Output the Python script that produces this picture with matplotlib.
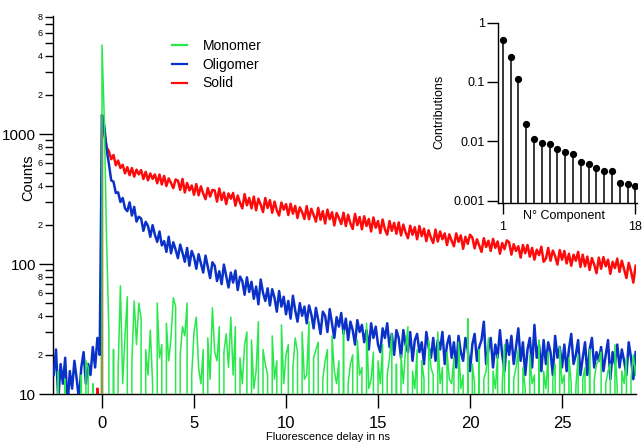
import numpy as np
import matplotlib
matplotlib.use('Agg')
import matplotlib.pyplot as plt
from matplotlib.ticker import LogLocator, FixedLocator, FuncFormatter, NullLocator
from matplotlib.lines import Line2D

plt.rcParams['font.family'] = ['Liberation Sans', 'DejaVu Sans']

# ---------------- data ----------------
# time channels (ns): first channel and channel width
t_start = -2.625
t_step = 0.125

monomer = [
    0, 0, 15, 0, 0, 13, 0, 0, 0, 0, 0, 0, 14, 0, 18, 16, 0, 12, 0, 0, 0,
    4840,
    1300, 150, 30, 0, 22, 0, 15, 68,
    12, 28, 56, 0, 18, 52, 24, 50,
    38, 0, 22, 14, 31, 12, 0, 50,
    19, 24, 0, 35, 18, 27, 55, 47,
    0, 20, 33, 28, 50, 0, 14, 30,
    39, 16, 12, 22, 0, 27, 13, 46,
    21, 18, 33, 0, 21, 29, 16, 39,
    14, 33, 0, 19, 12, 24, 30, 0,
    26, 11, 15, 36, 0, 22, 17, 14,
    0, 28, 13, 18, 0, 34, 12, 20,
    24, 0, 16, 27, 21, 0, 30, 13,
    14, 36, 0, 19, 22, 25, 0, 13,
    18, 22, 0, 28, 15, 12, 18, 0,
    31, 0, 12, 17, 20, 0, 26, 14,
    16, 0, 35, 11, 13, 21, 0, 18,
    12, 24, 0, 14, 19, 29, 0, 17,
    0, 20, 12, 23, 33, 0, 15, 11,
    22, 0, 18, 13, 0, 26, 16, 14,
    0, 30, 12, 16, 0, 21, 13, 12,
    19, 0, 25, 11, 14, 0, 38, 0,
    17, 12, 0, 22, 0, 13, 15, 27,
    0, 15, 11, 20, 0, 12, 24, 0,
    18, 0, 13, 16, 22, 0, 16, 11,
    0, 20, 12, 14, 0, 26, 0, 15,
    11, 21, 0, 13, 17, 0, 23, 12,
    14, 0, 19, 12, 0, 11, 20, 0,
    13, 16, 0, 22, 0, 13, 17, 18,
    21, 0, 12, 15, 17, 0, 24, 11,
    0, 15, 12, 19, 0, 13, 20, 14,
]

oligomer = [
    14, 22, 9, 17, 12, 19, 8, 15, 11, 18, 13, 9, 16, 21, 12, 17, 14, 23, 16, 27, 20,
    1400,
    1150, 760, 590, 440, 430, 352, 356, 300,
    322, 268, 255, 298, 236, 275, 212, 231,
    224, 180, 211, 196, 162, 199, 168, 148,
    178, 139, 150, 124, 162, 121, 147, 129,
    111, 141, 122, 104, 133, 97, 126, 113,
    92, 119, 101, 86, 116, 95, 78, 103,
    97, 74, 88, 70, 99, 81, 66, 86,
    72, 89, 63, 80, 74, 58, 79, 61,
    73, 54, 67, 49, 76, 60, 52, 65,
    48, 64, 55, 43, 62, 47, 56, 41,
    52, 38, 57, 44, 36, 50, 40, 47,
    35, 48, 41, 32, 46, 37, 29, 43,
    40, 30, 45, 35, 27, 39, 33, 42,
    29, 38, 26, 36, 31, 24, 37, 30,
    34, 25, 31, 22, 35, 27, 33, 24,
    21, 32, 27, 35, 23, 29, 20, 31,
    27, 19, 31, 24, 21, 30, 18, 26,
    29, 21, 25, 17, 30, 23, 19, 27,
    18, 26, 22, 30, 17, 24, 28, 19,
    25, 16, 28, 21, 18, 27, 22, 15,
    24, 29, 18, 23, 26, 36, 17, 22,
    27, 16, 24, 19, 31, 20, 15, 26,
    20, 28, 17, 23, 32, 18, 25, 14,
    22, 27, 16, 34, 19, 24, 15, 26,
    17, 25, 21, 14, 28, 19, 23, 16,
    24, 15, 22, 29, 17, 20, 26, 14,
    19, 25, 14, 22, 27, 16, 21, 18,
    23, 15, 20, 26, 13, 21, 17, 24,
    16, 22, 18, 14, 25, 19, 13, 21,
]

solid = [
    0, 0, 0, 0, 0, 0, 0, 0, 0, 0, 0, 0, 0, 0, 0, 0, 0, 0, 0, 11, 0,
    1400,
    1020, 790, 735, 640, 690, 575, 625, 548,
    580, 498, 556, 482, 548, 470, 532, 489,
    528, 451, 512, 440, 497, 452, 489, 418,
    488, 409, 476, 398, 455, 420, 383, 447,
    438, 372, 451, 355, 420, 368, 402, 341,
    412, 338, 396, 349, 315, 384, 330, 372,
    368, 302, 381, 311, 355, 289, 349, 318,
    352, 281, 336, 296, 268, 345, 283, 322,
    268, 330, 259, 318, 286, 251, 322, 270,
    310, 248, 302, 259, 236, 297, 262, 289,
    238, 291, 244, 280, 226, 273, 251, 222,
    279, 221, 266, 239, 212, 270, 219, 255,
    205, 262, 221, 250, 198, 247, 226, 203,
    248, 196, 239, 205, 186, 243, 199, 230,
    185, 233, 196, 222, 178, 228, 190, 214,
    173, 220, 185, 168, 214, 180, 207, 171,
    209, 166, 201, 175, 158, 197, 168, 192,
    155, 196, 164, 187, 150, 182, 159, 145,
    184, 149, 178, 155, 172, 140, 169, 151,
    137, 172, 148, 166, 131, 162, 143, 168,
    160, 132, 155, 139, 124, 158, 135, 151,
    126, 156, 133, 149, 120, 145, 130, 152,
    147, 118, 142, 126, 137, 112, 140, 121,
    140, 114, 133, 108, 129, 117, 136, 104,
    110, 133, 106, 127, 115, 99, 128, 108,
    126, 101, 120, 97, 118, 106, 124, 95,
    118, 96, 114, 90, 111, 99, 85, 112,
    92, 113, 96, 108, 84, 104, 93, 110,
    87, 106, 91, 78, 102, 88, 72, 97,
]

series_names = ['Monomer', 'Oligomer', 'Solid']
series_colors = ['#2ae84c', '#0a32c8', '#ff0a0a']

components = list(range(1, 19))
contributions = [0.52, 0.265, 0.112, 0.0197, 0.0111, 0.0094, 0.0091, 0.0073,
                 0.0065, 0.0060, 0.0045, 0.0042, 0.0036, 0.0031, 0.0031,
                 0.0020, 0.00187, 0.00178]

# ---------------- figure ----------------
W, H = 642, 443
fig = plt.figure(figsize=(W / 100, H / 100), dpi=100)

def fx(px):
    return px / W

def fy(py):
    return 1 - py / H

ax = fig.add_axes([fx(53), fy(394), fx(636) - fx(53), fy(16) - fy(394)])

t = t_start + t_step * np.arange(len(solid))
data = [monomer, oligomer, solid]
zorders = [4, 3, 2]
lws = [1.1, 1.8, 1.8]
for name, vals, col, z, lw in zip(series_names, data, series_colors, zorders, lws):
    ax.plot(t, vals, color=col, lw=lw, zorder=z, label=name)

ax.set_yscale('log', nonpositive='clip')
ax.set_xlim(-2.663, 29.02)
ax.set_ylim(10, 8090)

for s in ['top', 'right']:
    ax.spines[s].set_visible(False)
for s in ['left', 'bottom']:
    ax.spines[s].set_linewidth(1.0)

ax.yaxis.set_major_locator(FixedLocator([10, 100, 1000]))
ax.yaxis.set_major_formatter(FuncFormatter(lambda v, p: f'{int(round(v))}'))
ax.yaxis.set_minor_locator(LogLocator(base=10, subs=np.arange(2, 10)))

def minor_fmt(v, pos):
    e = np.floor(np.log10(v) + 1e-9)
    m = int(round(v / 10 ** e))
    return str(m) if m in (2, 4, 6, 8) else ''

ax.yaxis.set_minor_formatter(FuncFormatter(minor_fmt))
ax.set_xticks([0, 5, 10, 15, 20, 25])

ax.tick_params(axis='y', which='major', direction='out', length=10, width=1.0,
               labelsize=11, pad=2)
ax.tick_params(axis='y', which='minor', direction='out', length=6, width=1.0,
               labelsize=6.5, pad=1.5)
ax.tick_params(axis='x', which='major', direction='out', length=10, width=1.0,
               labelsize=12, pad=6)

fig.text(fx(28), fy(178), 'Counts', rotation=90, ha='center', va='center', fontsize=10.5)
fig.text(fx(328), fy(437), 'Fluorescence delay in ns', ha='center', va='center', fontsize=8)

handles = [Line2D([], [], color=c, lw=1.6) for c in series_colors]
ax.legend(handles, series_names, loc='upper left', bbox_to_anchor=(fx(172), fy(39)),
          bbox_transform=fig.transFigure, frameon=False, fontsize=10,
          handlelength=1.1, handletextpad=1.1, labelspacing=0.34,
          borderpad=0, borderaxespad=0)

# ---------------- inset ----------------
axi = fig.add_axes([fx(498.5), fy(203.3), fx(637) - fx(498.5), fy(22.7) - fy(203.3)])
axi.set_yscale('log')
axi.set_xlim(0.46, 18.2)
axi.set_ylim(0.0009, 1.0)
bottom_val = 0.0009
axi.vlines(components, bottom_val, contributions, colors='black', lw=1.1)
axi.plot(components, contributions, 'o', color='black', ms=4.2)
for s in ['top', 'right']:
    axi.spines[s].set_visible(False)
for s in ['left', 'bottom']:
    axi.spines[s].set_linewidth(1.0)
axi.yaxis.set_major_locator(FixedLocator([0.001, 0.01, 0.1, 1]))
axi.yaxis.set_major_formatter(FuncFormatter(lambda v, p: f'{v:g}'))
axi.yaxis.set_minor_locator(NullLocator())
axi.set_xticks([1, 18])
axi.tick_params(axis='y', direction='out', length=8, width=1.0, labelsize=9, pad=2)
axi.tick_params(axis='x', direction='out', length=8, width=1.0, labelsize=9, pad=5)
axi.patch.set_alpha(0)
fig.text(fx(564), fy(216), 'N° Component', ha='center', va='center', fontsize=9)
fig.text(fx(439), fy(112), 'Contributions', rotation=90, ha='center', va='center', fontsize=9)

fig.savefig('out.png', dpi=100)
